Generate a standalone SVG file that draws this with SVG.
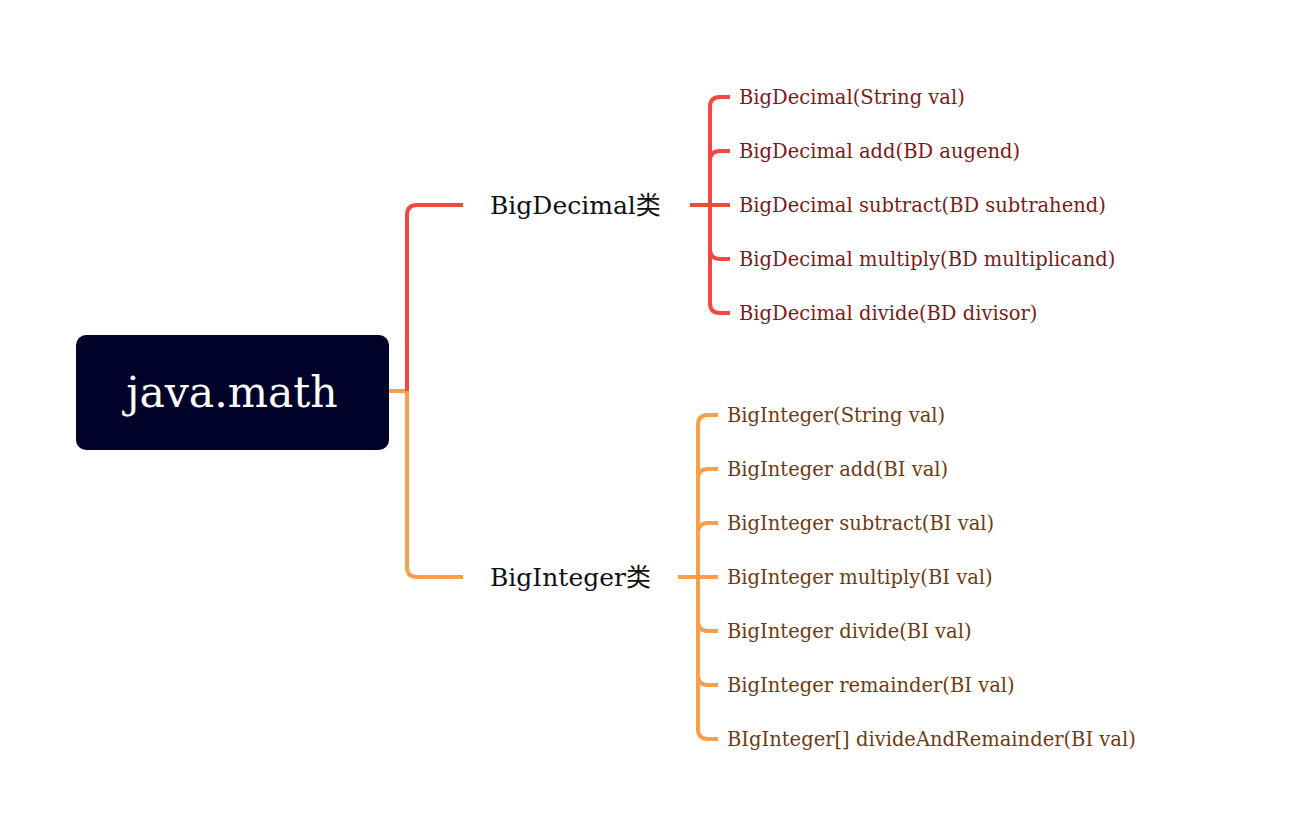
<svg xmlns="http://www.w3.org/2000/svg" width="1311" height="837" viewBox="0 0 1311 837">
<style>
.root{fill:#000229}
.rt{font-family:"DejaVu Serif","Noto Sans CJK SC",serif;fill:#ffffff;font-size:42.5px}
.mt{font-family:"DejaVu Serif","Noto Sans CJK SC",serif;fill:#111111;font-size:25px}
.dt{font-family:"DejaVu Serif",serif;fill:#7a1a1a;font-size:19.5px}
.it{font-family:"DejaVu Serif",serif;fill:#6e3b12;font-size:19.5px}
.r{fill:none;stroke:#f5473d;stroke-width:4;stroke-linecap:butt}
.o{fill:none;stroke:#f79f4a;stroke-width:4;stroke-linecap:butt}
</style>
<rect width="1311" height="837" fill="#ffffff"/>
<g id="connectors">
<path class="o" d="M389 391 H407"/>
<path class="r" d="M407 391 V215 Q407 205 417 205 H463"/>
<path class="o" d="M407 391 V567 Q407 577 417 577 H463"/>
<path class="r" d="M690 205 H730"/>
<path class="r" d="M730 97 H720 Q710 97 710 107 V303 Q710 313 720 313 H730"/>
<path class="r" d="M730 151 H720 Q710 151 710 161"/>
<path class="r" d="M730 259 H720 Q710 259 710 249"/>
<path class="o" d="M678 577 H718"/>
<path class="o" d="M718 415 H708 Q698 415 698 425 V729 Q698 739 708 739 H718"/>
<path class="o" d="M718 469 H708 Q698 469 698 479"/>
<path class="o" d="M718 523 H708 Q698 523 698 533"/>
<path class="o" d="M718 631 H708 Q698 631 698 621"/>
<path class="o" d="M718 685 H708 Q698 685 698 675"/>
</g>
<g id="root">
<rect class="root" x="76" y="335" width="313" height="115" rx="10"/>
<text class="rt" x="232" y="407" text-anchor="middle">java.math</text>
</g>
<g id="bigdecimal">
<text class="mt" x="490" y="214">BigDecimal类</text>
</g>
<g id="bd1"><text class="dt" x="739" y="104">BigDecimal(String val)</text></g>
<g id="bd2"><text class="dt" x="739" y="158">BigDecimal add(BD augend)</text></g>
<g id="bd3"><text class="dt" x="739" y="212">BigDecimal subtract(BD subtrahend)</text></g>
<g id="bd4"><text class="dt" x="739" y="266">BigDecimal multiply(BD multiplicand)</text></g>
<g id="bd5"><text class="dt" x="739" y="320">BigDecimal divide(BD divisor)</text></g>
<g id="biginteger">
<text class="mt" x="490" y="586">BigInteger类</text>
</g>
<g id="bi1"><text class="it" x="727" y="422">BigInteger(String val)</text></g>
<g id="bi2"><text class="it" x="727" y="476">BigInteger add(BI val)</text></g>
<g id="bi3"><text class="it" x="727" y="530">BigInteger subtract(BI val)</text></g>
<g id="bi4"><text class="it" x="727" y="584">BigInteger multiply(BI val)</text></g>
<g id="bi5"><text class="it" x="727" y="638">BigInteger divide(BI val)</text></g>
<g id="bi6"><text class="it" x="727" y="692">BigInteger remainder(BI val)</text></g>
<g id="bi7"><text class="it" x="727" y="746">BIgInteger[] divideAndRemainder(BI val)</text></g>
</svg>
